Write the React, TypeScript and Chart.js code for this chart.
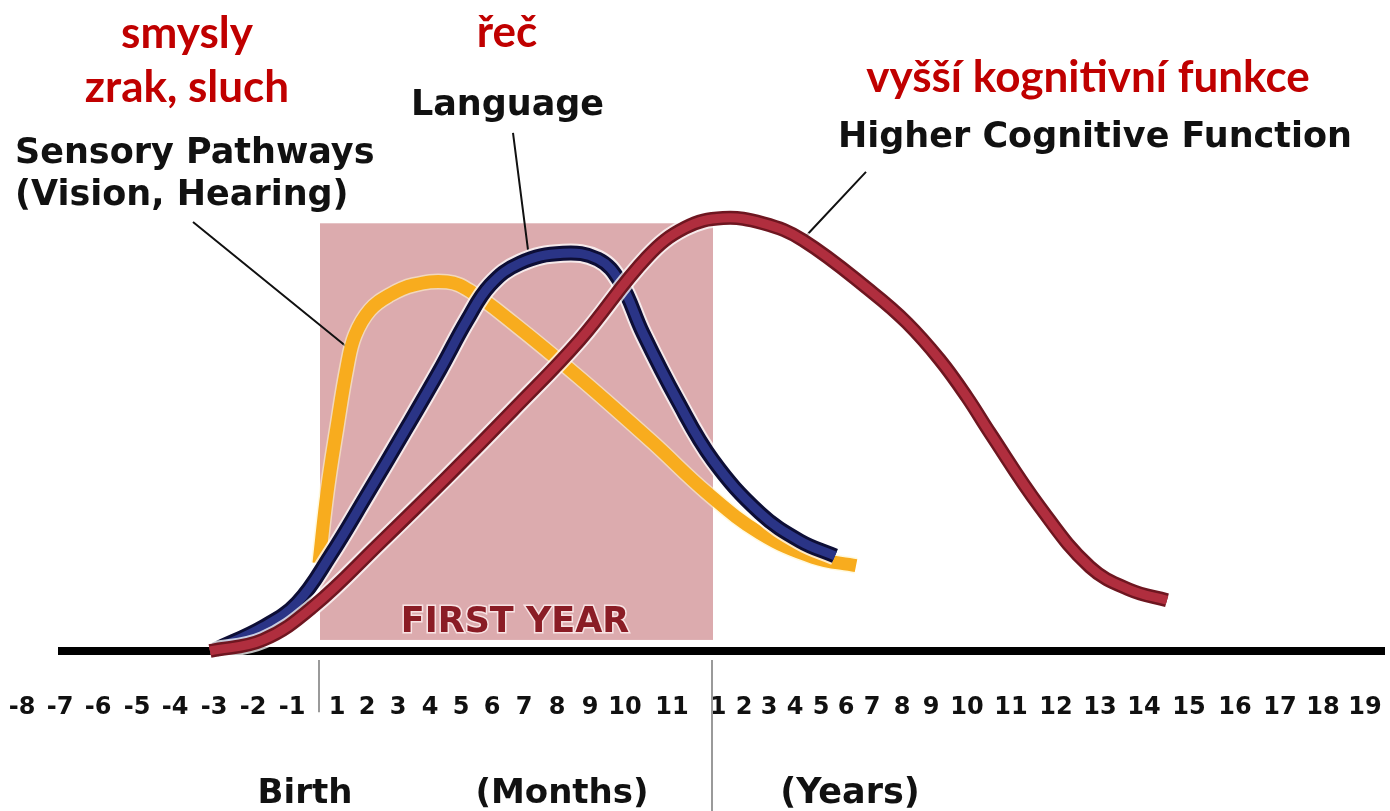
import React, { useEffect, useRef } from "react";
import { Chart, registerables } from "chart.js";

Chart.register(...registerables);

// ---- axis: tick labels (months before birth, months of first year, years) ----
const tickLabels = [
  "-8", "-7", "-6", "-5", "-4", "-3", "-2", "-1",
  "1", "2", "3", "4", "5", "6", "7", "8", "9", "10", "11",
  "1", "2", "3", "4", "5", "6", "7", "8", "9", "10", "11", "12", "13", "14", "15", "16", "17", "18", "19",
];
// positions of those ticks along the (non-linear) timeline axis, in axis units
const tickPositions = [
  2.2, 6.0, 9.8, 13.7, 17.5, 21.4, 25.3, 29.2,
  33.7, 36.7, 39.8, 43.0, 46.1, 49.2, 52.4, 55.7, 59.0, 62.5, 67.2,
  71.8, 74.4, 76.9, 79.5, 82.1, 84.6, 87.2, 90.2, 93.1, 96.7, 101.1, 105.6, 110.0, 114.4, 118.9, 123.5, 128.0, 132.3, 136.5,
];

// ---- series (timeline units, relative intensity) ----
const sensoryX = [31.9, 32.7, 33.7, 34.7, 35.5, 37.0, 39.0, 41.3, 44.7, 47.0, 51.3, 58.0, 65.3, 70.7, 76.0, 81.3, 85.6];
const sensoryY = [13.5, 24.3, 34.4, 43.6, 48.5, 52.4, 54.7, 56.2, 56.7, 55.3, 50.4, 41.9, 32.0, 24.3, 18.1, 14.4, 13.1];

const languageX = [21.5, 26.3, 29.7, 33.0, 36.7, 40.7, 44.0, 46.7, 49.0, 52.0, 56.3, 59.8, 62.0, 64.3, 67.7, 71.3, 76.0, 80.0, 83.5];
const languageY = [0.2, 3.7, 7.4, 14.6, 24.0, 34.4, 43.2, 50.8, 56.2, 59.6, 61.1, 60.2, 56.7, 48.8, 38.6, 29.3, 21.2, 16.9, 14.6];

const cognitiveX = [21.0, 26.3, 31.3, 38.0, 44.7, 51.3, 58.0, 64.7, 68.5, 72.3, 76.3, 80.3, 87.3, 90.7, 94.0, 96.7, 99.0, 104.0, 109.0, 113.0, 116.7];
const cognitiveY = [0.0, 1.7, 6.8, 16.6, 26.7, 37.0, 47.8, 60.5, 65.0, 66.5, 65.7, 63.1, 55.0, 50.4, 44.7, 39.0, 33.5, 22.1, 12.9, 9.4, 7.8];

// first-year band (timeline units) and its height (intensity units)
const firstYearSpan = [32.0, 71.3];
const firstYearHeight = [1.7, 65.7];

const BLACK_FONT = "'DejaVu Sans', Verdana, sans-serif";
const RED_FONT = "Lato, 'Open Sans', sans-serif";
const RED = "#C00000";

type Txt = { t: string; x: number; y: number; font: string; color: string; align: CanvasTextAlign };

const texts: Txt[] = [
  { t: "smysly", x: 18.7, y: 92.6, font: `bold 44px ${RED_FONT}`, color: RED, align: "center" },
  { t: "zrak, sluch", x: 18.7, y: 84.3, font: `bold 44px ${RED_FONT}`, color: RED, align: "center" },
  { t: "řeč", x: 50.7, y: 92.8, font: `bold 44px ${RED_FONT}`, color: RED, align: "center" },
  { t: "vyšší kognitivní funkce", x: 108.8, y: 85.9, font: `bold 44px ${RED_FONT}`, color: RED, align: "center" },
  { t: "Sensory Pathways", x: 1.5, y: 75.0, font: `bold 35px ${BLACK_FONT}`, color: "#111", align: "left" },
  { t: "(Vision, Hearing)", x: 1.5, y: 68.5, font: `bold 35px ${BLACK_FONT}`, color: "#111", align: "left" },
  { t: "Language", x: 50.75, y: 82.3, font: `bold 35px ${BLACK_FONT}`, color: "#111", align: "center" },
  { t: "Higher Cognitive Function", x: 109.5, y: 77.4, font: `bold 35px ${BLACK_FONT}`, color: "#111", align: "center" },
  { t: "Birth", x: 30.5, y: -23.3, font: `bold 34px ${BLACK_FONT}`, color: "#111", align: "center" },
  { t: "(Months)", x: 56.2, y: -23.3, font: `bold 34px ${BLACK_FONT}`, color: "#111", align: "center" },
  { t: "(Years)", x: 85.0, y: -23.3, font: `bold 35px ${BLACK_FONT}`, color: "#111", align: "center" },
];

// leader lines from labels to curves: [x1, y1, x2, y2] in axis units
const leaders = [
  [19.3, 65.9, 34.6, 46.8],
  [51.3, 79.6, 52.8, 61.6],
  [86.6, 73.6, 80.5, 63.6],
];

const overlay = {
  id: "overlay",
  beforeDatasetsDraw(chart: any) {
    const { ctx, scales } = chart;
    const x = scales.x, y = scales.y;
    const px = (v: number) => x.getPixelForValue(v);
    const py = (v: number) => y.getPixelForValue(v);
    ctx.save();
    // first year band
    ctx.fillStyle = "#DCABAE";
    const bx0 = px(firstYearSpan[0]), bx1 = px(firstYearSpan[1]);
    const by0 = py(firstYearHeight[1]), by1 = py(firstYearHeight[0]);
    ctx.fillRect(bx0, by0, bx1 - bx0, by1 - by0);
    // FIRST YEAR label
    ctx.font = `bold 35px ${BLACK_FONT}`;
    ctx.textAlign = "center";
    ctx.textBaseline = "alphabetic";
    ctx.lineWidth = 3;
    ctx.strokeStyle = "rgba(255,240,240,0.8)";
    ctx.strokeText("FIRST YEAR", px(51.5), py(2.9));
    ctx.fillStyle = "#8A1C25";
    ctx.fillText("FIRST YEAR", px(51.5), py(2.9));
    // baseline
    ctx.strokeStyle = "#000";
    ctx.lineWidth = 8;
    ctx.beginPath();
    ctx.moveTo(px(5.8), py(0));
    ctx.lineTo(px(138.5), py(0));
    ctx.stroke();
    // birth and year tick lines
    ctx.strokeStyle = "#9A9A9A";
    ctx.lineWidth = 2;
    ctx.beginPath();
    ctx.moveTo(px(31.9), py(-1.4));
    ctx.lineTo(px(31.9), py(-9.4));
    ctx.moveTo(px(71.2), py(-1.4));
    ctx.lineTo(px(71.2), py(-25));
    ctx.stroke();
    // leader lines
    ctx.strokeStyle = "#111";
    ctx.lineWidth = 2;
    ctx.beginPath();
    for (const l of leaders) {
      ctx.moveTo(px(l[0]), py(l[1]));
      ctx.lineTo(px(l[2]), py(l[3]));
    }
    ctx.stroke();
    ctx.restore();
  },
  afterDraw(chart: any) {
    const { ctx, scales } = chart;
    const x = scales.x, y = scales.y;
    ctx.save();
    ctx.textBaseline = "alphabetic";
    for (const t of texts) {
      ctx.font = t.font;
      ctx.fillStyle = t.color;
      ctx.textAlign = t.align;
      ctx.fillText(t.t, x.getPixelForValue(t.x), y.getPixelForValue(t.y));
    }
    ctx.restore();
  },
};

const toPts = (xs: number[], ys: number[]) => xs.map((v, i) => ({ x: v, y: ys[i] }));

function line(xs: number[], ys: number[], color: string, width: number, order: number) {
  return {
    data: toPts(xs, ys),
    borderColor: color,
    borderWidth: width,
    pointRadius: 0,
    fill: false,
    tension: 0.4,
    borderCapStyle: "butt" as const,
    borderJoinStyle: "round" as const,
    clip: false as const,
    order,
  };
}

export default function App() {
  const ref = useRef<HTMLCanvasElement | null>(null);
  useEffect(() => {
    document.body.style.margin = "0";
    if (!ref.current) return;
    const chart = new Chart(ref.current, {
      type: "line",
      data: {
        datasets: [
          line(cognitiveX, cognitiveY, "#B02E3E", 9, 0),
          line(cognitiveX, cognitiveY, "#6E1620", 14, 1),
          line(cognitiveX, cognitiveY, "rgba(255,255,255,0.75)", 18, 2),
          line(languageX, languageY, "#2A3486", 9, 3),
          line(languageX, languageY, "#0D0E36", 15, 4),
          line(languageX, languageY, "rgba(255,255,255,0.75)", 19, 5),
          line(sensoryX, sensoryY, "#F8AC1E", 13, 6),
          line(sensoryX, sensoryY, "rgba(255,245,200,0.6)", 16, 7),
        ] as any,
      },
      options: {
        animation: false,
        responsive: true,
        maintainAspectRatio: false,
        events: [],
        layout: { padding: 0 },
        plugins: { legend: { display: false }, tooltip: { enabled: false } },
        scales: {
          x: {
            type: "linear",
            min: 0,
            max: 139,
            grid: { display: false, drawTicks: false },
            border: { display: false },
            afterBuildTicks: (s: any) => {
              s.ticks = tickPositions.map((v) => ({ value: v }));
            },
            afterFit: (s: any) => {
              s.height = 160;
              s.paddingLeft = 0;
              s.paddingRight = 0;
            },
            ticks: {
              autoSkip: false,
              maxRotation: 0,
              minRotation: 0,
              padding: 42,
              color: "#111",
              font: { family: BLACK_FONT, weight: "bold", size: 24 },
              callback: (_v: any, i: number) => tickLabels[i],
            },
          },
          y: { type: "linear", display: false, min: 0, max: 100 },
        },
      },
      plugins: [overlay],
    });
    return () => chart.destroy();
  }, []);
  return (
    <div style={{ position: "fixed", left: 0, top: 0, width: 1390, height: 811, background: "#fff" }}>
      <canvas ref={ref} />
    </div>
  );
}
